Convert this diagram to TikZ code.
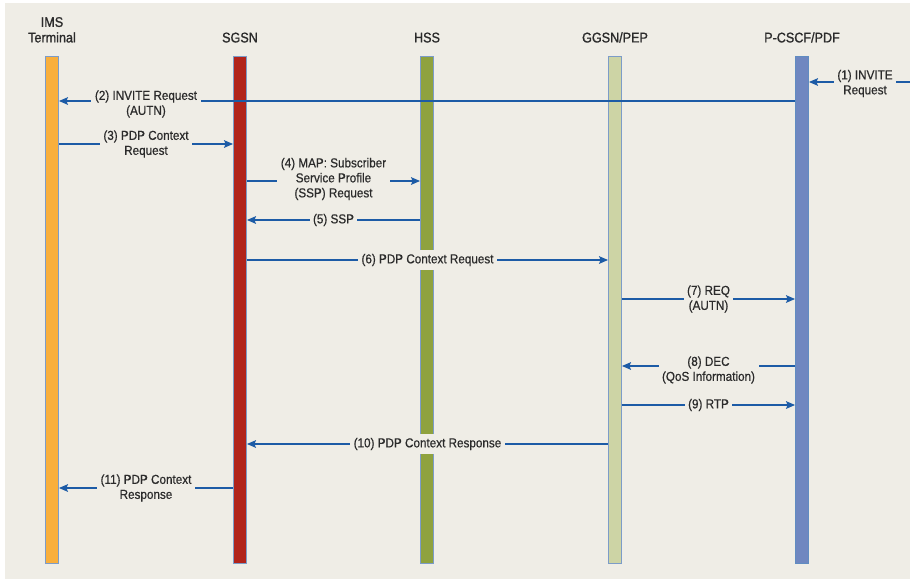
\documentclass[tikz,border=0pt]{standalone}
\usepackage{fontspec}
\setmainfont{Liberation Sans}[FakeStretch=0.9,FakeBold=0.6]
\newfontfamily\headfont{Liberation Sans}[FakeStretch=0.9,FakeBold=1.2]
\usetikzlibrary{arrows.meta}
\usetikzlibrary{positioning}
\usetikzlibrary{calc}
\definecolor{bgcol}{HTML}{EFEDE6}
\definecolor{txtcol}{HTML}{2B2B2B}
\definecolor{msgblue}{HTML}{1C5BA6}
\definecolor{barline}{HTML}{7C9CC8}
\definecolor{imscol}{HTML}{F9AF3C}
\definecolor{sgsncol}{HTML}{B1241B}
\definecolor{hsscol}{HTML}{8FA23E}
\definecolor{ggsncol}{HTML}{CDD4A5}
\definecolor{pcscfcol}{HTML}{6F87C0}
\tikzstyle{bar}=[rectangle,draw=barline,line width=0.8pt,minimum width=13pt,minimum height=507pt,inner sep=0pt]
\tikzstyle{head}=[font=\headfont\fontsize{14}{15.5}\selectfont,text=txtcol,align=center,inner sep=0pt,text depth=0pt]
\tikzstyle{arr}=[->,>={Stealth[length=9pt,width=7.5pt,inset=1.5pt]},draw=msgblue,line width=1.8pt]
\tikzstyle{lbl}=[fill=bgcol,font=\fontsize{13}{15}\selectfont,text=txtcol,align=center,inner sep=3.5pt]

\begin{document}
\begin{tikzpicture}[x=1pt,y=-1pt]
        \useasboundingbox (0,0) rectangle (910,581);
        \fill[white] (0,0) rectangle (910,581);
        \fill[bgcol] (5,3) rectangle (910,579);
        % lifelines
        \node[bar,fill=imscol] (ims) at (52,309.5) {};
        \node[bar,fill=sgsncol] (sgsn) at (240,309.5) {};
        \node[bar,fill=hsscol] (hss) at (427,309.5) {};
        \node[bar,fill=ggsncol] (ggsn) at (615,309.5) {};
        \node[bar,fill=pcscfcol,draw=msgblue!70] (pcscf) at (802,309.5) {};
        \node[head,above=13pt of ims] (imslbl) {IMS\\Terminal};
        \node[head,above=13pt of sgsn] (sgsnlbl) {SGSN};
        \node[head,above=13pt of hss] (hsslbl) {HSS};
        \node[head,above=13pt of ggsn] (ggsnlbl) {GGSN/PEP};
        \node[head,above=13pt of pcscf] (pcscflbl) {P-CSCF/PDF};
        % message levels
        \coordinate (m1) at (0,82);
        \coordinate (m2) at (0,101);
        \coordinate (m3) at (0,144);
        \coordinate (m4) at (0,181);
        \coordinate (m5) at (0,220);
        \coordinate (m6) at (0,260);
        \coordinate (m7) at (0,299);
        \coordinate (m8) at (0,366);
        \coordinate (m9) at (0,405);
        \coordinate (m10) at (0,444);
        \coordinate (m11) at (0,488);
        \coordinate (in1) at (910,82);
        % messages
        \draw[arr] (in1) -- (pcscf.east |- m1);
        \draw[arr] (pcscf.west |- m2) -- (ims.east |- m2);
        \draw[arr] (ims.east |- m3) -- (sgsn.west |- m3);
        \draw[arr] (sgsn.east |- m4) -- (hss.west |- m4);
        \draw[arr] (hss.west |- m5) -- (sgsn.east |- m5);
        \draw[arr] (sgsn.east |- m6) -- (ggsn.west |- m6);
        \draw[arr] (ggsn.east |- m7) -- (pcscf.west |- m7);
        \draw[arr] (pcscf.west |- m8) -- (ggsn.east |- m8);
        \draw[arr] (ggsn.east |- m9) -- (pcscf.west |- m9);
        \draw[arr] (ggsn.west |- m10) -- (sgsn.east |- m10);
        \draw[arr] (sgsn.west |- m11) -- (ims.east |- m11);
        % labels
        \node[lbl] (l1) at (865,83.5) {(1) INVITE\\Request};
        \node[lbl] (l2) at ($(ims.east |- m2)!0.5!(sgsn.west |- m2)+(0,3)$) {(2) INVITE Request\\(AUTN)};
        \node[lbl] (l3) at ($(ims.east |- m3)!0.5!(sgsn.west |- m3)$) {(3) PDP Context\\Request};
        \node[lbl] (l4) at ($(sgsn.east |- m4)!0.5!(hss.west |- m4)+(0,-2)$) {(4) MAP: Subscriber\\Service Profile\\(SSP) Request};
        \node[lbl] (l5) at ($(sgsn.east |- m5)!0.5!(hss.west |- m5)$) {(5) SSP};
        \node[lbl] (l6) at ($(sgsn.east |- m6)!0.5!(ggsn.west |- m6)$) {(6) PDP Context Request};
        \node[lbl] (l7) at ($(ggsn.east |- m7)!0.5!(pcscf.west |- m7)$) {(7) REQ\\(AUTN)};
        \node[lbl] (l8) at ($(ggsn.east |- m8)!0.5!(pcscf.west |- m8)+(0,4)$) {(8) DEC\\(QoS Information)};
        \node[lbl] (l9) at ($(ggsn.east |- m9)!0.5!(pcscf.west |- m9)$) {(9) RTP};
        \node[lbl] (l10) at ($(sgsn.east |- m10)!0.5!(ggsn.west |- m10)$) {(10) PDP Context Response};
        \node[lbl] (l11) at ($(ims.east |- m11)!0.5!(sgsn.west |- m11)$) {(11) PDP Context\\Response};
      \end{tikzpicture}
\end{document}
